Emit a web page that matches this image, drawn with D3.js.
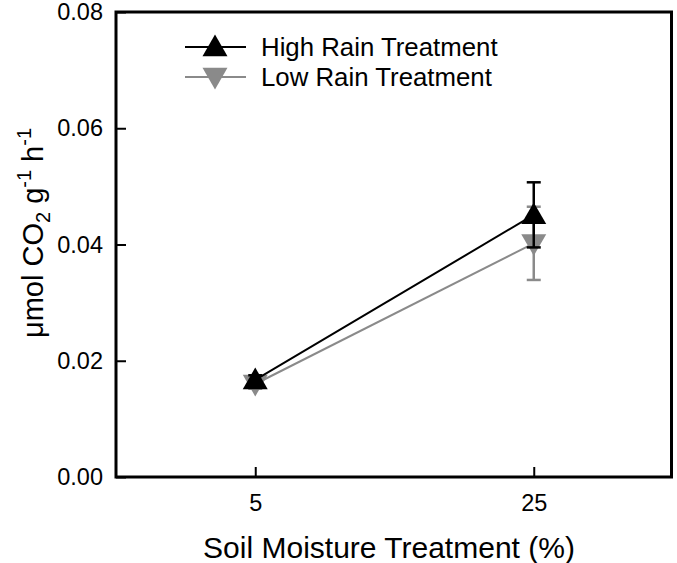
<!DOCTYPE html>
<html>
<head>
<meta charset="utf-8">
<script src="https://cdn.jsdelivr.net/npm/d3@7"></script>
<style>
  body { margin: 0; background: #fff; }
  text { font-family: "Liberation Sans", Arial, sans-serif; }
</style>
</head>
<body>
<svg id="chart" width="677" height="563"></svg>
<script>
const moisture = [5, 25];
const highRain = [0.0167, 0.0451];
const highRainErr = [0.0008, 0.0056];
const lowRain = [0.0160, 0.0402];
const lowRainErr = [0.0008, 0.0063];
const yTicks = [0.00, 0.02, 0.04, 0.06, 0.08];
const seriesNames = ["High Rain Treatment", "Low Rain Treatment"];

const W = 677, H = 563;
const margin = {left: 116, top: 12, right: 4, bottom: 86};
const svg = d3.select("#chart");

const x = d3.scaleLinear().domain([-5, 35]).range([margin.left, W - margin.right]);
const y = d3.scaleLinear().domain([0, 0.08]).range([H - margin.bottom, margin.top]);

const series = [
  {name: seriesNames[0], vals: highRain, err: highRainErr, color: "#000000", rot: 0},
  {name: seriesNames[1], vals: lowRain, err: lowRainErr, color: "#8a8a8a", rot: 180}
];

const tri = d3.symbol().type(d3.symbolTriangle).size(270);

[series[1], series[0]].forEach(s => {
  const g = svg.append("g");
  const pts = moisture.map((m, i) => [m, s.vals[i], s.err[i]]);
  g.append("path")
    .attr("d", d3.line().x(d => x(d[0])).y(d => y(d[1]))(pts))
    .attr("fill", "none").attr("stroke", s.color).attr("stroke-width", 2);
  pts.forEach(d => {
    g.append("line").attr("x1", x(d[0])).attr("x2", x(d[0]))
      .attr("y1", y(d[1] - d[2])).attr("y2", y(d[1] + d[2]))
      .attr("stroke", s.color).attr("stroke-width", 2.5);
    [d[1] - d[2], d[1] + d[2]].forEach(v => {
      g.append("line").attr("x1", x(d[0]) - 7).attr("x2", x(d[0]) + 7)
        .attr("y1", y(v)).attr("y2", y(v))
        .attr("stroke", s.color).attr("stroke-width", 2.5);
    });
  });
  pts.forEach(d => {
    const dy = s.rot ? -2 : 2;
    g.append("path").attr("d", tri)
      .attr("transform", `translate(${x(d[0])},${y(d[1]) + dy}) rotate(${s.rot})`)
      .attr("fill", s.color);
  });
});

const yAxis = d3.axisLeft(y).tickValues(yTicks).tickFormat(d3.format(".2f")).tickSizeInner(-10).tickSizeOuter(0).tickPadding(13);
const gy = svg.append("g").attr("transform", `translate(${margin.left},0)`).call(yAxis);
const xAxis = d3.axisBottom(x).tickValues(moisture).tickFormat(d3.format("d")).tickSizeInner(-10).tickSizeOuter(0).tickPadding(17);
const gx = svg.append("g").attr("transform", `translate(0,${H - margin.bottom})`).call(xAxis);
[gx, gy].forEach(g => {
  g.select(".domain").remove();
  g.selectAll(".tick line").attr("stroke", "#000").attr("stroke-width", 2);
  g.selectAll(".tick text").attr("font-size", 23.5).attr("fill", "#000")
    .attr("font-family", "'Liberation Sans', Arial, sans-serif");
});

svg.append("rect")
  .attr("x", margin.left).attr("y", margin.top)
  .attr("width", W - margin.right - margin.left - 1.5)
  .attr("height", H - margin.bottom - margin.top)
  .attr("fill", "none").attr("stroke", "#000").attr("stroke-width", 3);

svg.append("text").attr("x", 389).attr("y", 558)
  .attr("text-anchor", "middle").attr("font-size", 30).attr("fill", "#000")
  .text("Soil Moisture Treatment (%)");

const yt = svg.append("text")
  .attr("transform", `translate(43,233) rotate(-90)`)
  .attr("text-anchor", "middle").attr("font-size", 29).attr("fill", "#000");
yt.append("tspan").text("μmol CO");
yt.append("tspan").attr("font-size", 20).attr("dy", 7).text("2");
yt.append("tspan").attr("dy", -7).text(" g");
yt.append("tspan").attr("font-size", 20).attr("dy", -12).text("-1");
yt.append("tspan").attr("dy", 12).text(" h");
yt.append("tspan").attr("font-size", 20).attr("dy", -12).text("-1");

const legY = [47, 77];
series.forEach((s, i) => {
  const g = svg.append("g");
  g.append("line").attr("x1", 185).attr("x2", 246).attr("y1", legY[i]).attr("y2", legY[i])
    .attr("stroke", s.color).attr("stroke-width", 2);
  const dy = s.rot ? -2 : 2;
  g.append("path").attr("d", tri)
    .attr("transform", `translate(215,${legY[i] + dy}) rotate(${s.rot})`)
    .attr("fill", s.color);
  g.append("text").attr("x", 261).attr("y", legY[i] + 9)
    .attr("font-size", 25.8).attr("fill", "#000").text(s.name);
});
</script>
</body>
</html>
